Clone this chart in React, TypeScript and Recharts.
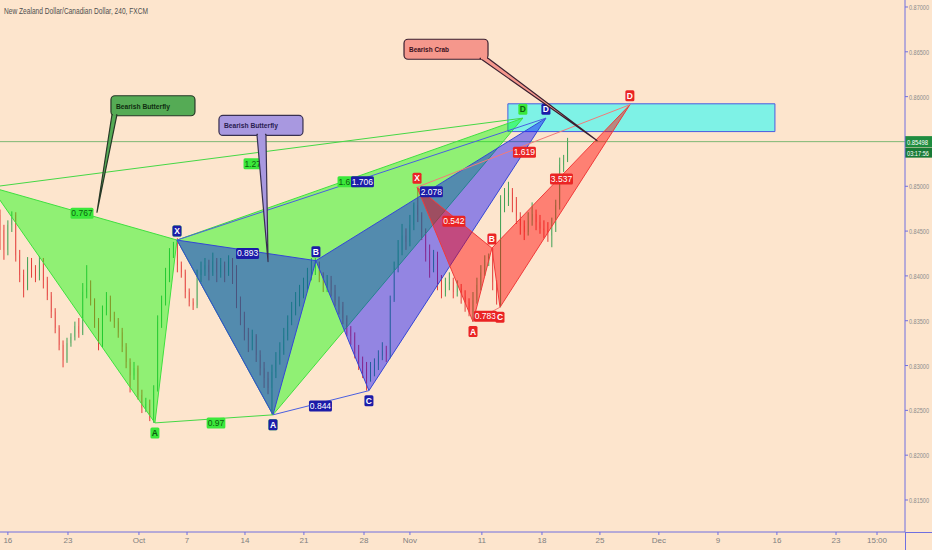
import React from 'react';
import { ComposedChart, Bar, Scatter, XAxis, YAxis, ReferenceArea, ReferenceLine } from 'recharts';

// ---------------- DATA ----------------
const chartTitle = 'New Zealand Dollar/Canadian Dollar, 240, FXCM';

// candles every 2 bars (240-minute bars)
const candleBarStep = 2;
const firstOpen = 0.8468;
const candleHighs = [
  0.8474, 0.8457, 0.8462, 0.8472, 0.8471, 0.8429, 0.8407, 0.8421, 0.8420, 0.8412,
  0.8422, 0.8420, 0.8399, 0.8382, 0.8364, 0.8345, 0.8328, 0.8331, 0.8336, 0.8349,
  0.8353, 0.8392, 0.8412, 0.8395, 0.8375, 0.8353, 0.8367, 0.8382, 0.8378, 0.8360,
  0.8353, 0.8342, 0.8325, 0.8308, 0.8304, 0.8300, 0.8273, 0.8264, 0.8262, 0.8278,
  0.8356, 0.8378, 0.8409, 0.8431, 0.8438, 0.8442, 0.8416, 0.8407, 0.8386, 0.8375,
  0.8407, 0.8416, 0.8420, 0.8418, 0.8426, 0.8420, 0.8420, 0.8416, 0.8423, 0.8420,
  0.8412, 0.8377, 0.8360, 0.8342, 0.8340, 0.8335, 0.8317, 0.8304, 0.8293, 0.8301,
  0.8315, 0.8326, 0.8342, 0.8356, 0.8371, 0.8382, 0.8390, 0.8398, 0.8409, 0.8420,
  0.8420, 0.8416, 0.8404, 0.8401, 0.8400, 0.8390, 0.8377, 0.8371, 0.8356, 0.8344,
  0.8337, 0.8323, 0.8310, 0.8304, 0.8304, 0.8308, 0.8317, 0.8326, 0.8322, 0.8378,
  0.8416, 0.8440, 0.8458, 0.8453, 0.8468, 0.8482, 0.8499, 0.8471, 0.8453, 0.8435,
  0.8429, 0.8427, 0.8401, 0.8398, 0.8404, 0.8398, 0.8395, 0.8391, 0.8384, 0.8375,
  0.8382, 0.8398, 0.8412, 0.8423, 0.8425, 0.8431, 0.8395, 0.8490, 0.8498, 0.8505,
  0.8498, 0.8488, 0.8471, 0.8462, 0.8471, 0.8482, 0.8474, 0.8468, 0.8462, 0.8460,
  0.8465, 0.8485, 0.8532, 0.8535, 0.8554,
];
const candleLows = [
  0.8429, 0.8418, 0.8423, 0.8449, 0.8416, 0.8393, 0.8376, 0.8384, 0.8398, 0.8393,
  0.8395, 0.8386, 0.8373, 0.8353, 0.8336, 0.8317, 0.8298, 0.8303, 0.8321, 0.8328,
  0.8331, 0.8334, 0.8375, 0.8367, 0.8342, 0.8317, 0.8320, 0.8356, 0.8349, 0.8342,
  0.8331, 0.8315, 0.8297, 0.8270, 0.8284, 0.8262, 0.8247, 0.8248, 0.8238, 0.8236,
  0.8271, 0.8342, 0.8367, 0.8393, 0.8420, 0.8404, 0.8398, 0.8375, 0.8366, 0.8362,
  0.8364, 0.8393, 0.8400, 0.8395, 0.8400, 0.8393, 0.8398, 0.8393, 0.8400, 0.8391,
  0.8364, 0.8345, 0.8328, 0.8315, 0.8317, 0.8304, 0.8289, 0.8275, 0.8268, 0.8245,
  0.8286, 0.8301, 0.8312, 0.8328, 0.8345, 0.8356, 0.8366, 0.8375, 0.8384, 0.8395,
  0.8401, 0.8393, 0.8382, 0.8382, 0.8377, 0.8366, 0.8357, 0.8346, 0.8333, 0.8323,
  0.8308, 0.8295, 0.8286, 0.8272, 0.8282, 0.8288, 0.8295, 0.8306, 0.8304, 0.8308,
  0.8371, 0.8404, 0.8423, 0.8429, 0.8433, 0.8451, 0.8460, 0.8440, 0.8416, 0.8398,
  0.8404, 0.8384, 0.8375, 0.8377, 0.8384, 0.8375, 0.8377, 0.8369, 0.8360, 0.8355,
  0.8349, 0.8369, 0.8384, 0.8400, 0.8411, 0.8384, 0.8368, 0.8365, 0.8471, 0.8478,
  0.8471, 0.8458, 0.8446, 0.8440, 0.8445, 0.8456, 0.8451, 0.8447, 0.8442, 0.8438,
  0.8432, 0.8449, 0.8474, 0.8516, 0.8527,
];
const candleCloses = [
  0.8451, 0.8429, 0.8457, 0.8468, 0.8423, 0.8401, 0.8386, 0.8416, 0.8407, 0.8400,
  0.8416, 0.8395, 0.8378, 0.8360, 0.8342, 0.8323, 0.8306, 0.8325, 0.8332, 0.8344,
  0.8336, 0.8382, 0.8386, 0.8373, 0.8349, 0.8323, 0.8362, 0.8375, 0.8353, 0.8349,
  0.8337, 0.8321, 0.8304, 0.8289, 0.8297, 0.8267, 0.8253, 0.8257, 0.8241, 0.8273,
  0.8349, 0.8373, 0.8398, 0.8427, 0.8435, 0.8412, 0.8404, 0.8382, 0.8371, 0.8367,
  0.8401, 0.8407, 0.8412, 0.8404, 0.8416, 0.8404, 0.8412, 0.8404, 0.8416, 0.8409,
  0.8373, 0.8356, 0.8337, 0.8328, 0.8333, 0.8312, 0.8297, 0.8286, 0.8275, 0.8293,
  0.8306, 0.8317, 0.8333, 0.8349, 0.8362, 0.8371, 0.8378, 0.8388, 0.8400, 0.8409,
  0.8416, 0.8400, 0.8390, 0.8395, 0.8384, 0.8373, 0.8366, 0.8353, 0.8340, 0.8333,
  0.8317, 0.8304, 0.8297, 0.8286, 0.8295, 0.8301, 0.8311, 0.8317, 0.8311, 0.8373,
  0.8409, 0.8429, 0.8445, 0.8438, 0.8457, 0.8479, 0.8468, 0.8449, 0.8427, 0.8409,
  0.8423, 0.8395, 0.8382, 0.8391, 0.8393, 0.8382, 0.8386, 0.8377, 0.8371, 0.8360,
  0.8373, 0.8390, 0.8404, 0.8418, 0.8422, 0.8393, 0.8373, 0.8485, 0.8488, 0.8493,
  0.8485, 0.8467, 0.8456, 0.8449, 0.8462, 0.8469, 0.8460, 0.8453, 0.8451, 0.8445,
  0.8456, 0.8479, 0.8524, 0.8529, 0.85498,
];

const xTickBars = [4, 34.5, 70.5, 94.9, 124.3, 154.2, 184.7, 208, 244.5, 275, 304.4, 334.3, 364.3, 394.2, 424.2, 445];
const xTickLabels = ['16', '23', 'Oct', '7', '14', '21', '28', 'Nov', '11', '18', '25', 'Dec', '9', '16', '23', '15:00'];
const priceTicks = [0.815, 0.82, 0.825, 0.83, 0.835, 0.84, 0.845, 0.85, 0.86, 0.865, 0.87];
const lastPrice = 0.85498;
const countdown = '03:17:56';

const pointNames = ['X', 'A', 'B', 'C', 'D'];
const greenBars = [-4.6, 78.6, 89.8, 138.5, 265.3];
const greenPrices = [0.8499, 0.8236, 0.844, 0.8245, 0.8576];
const blueBars = [89.8, 138.5, 160.3, 187.2, 277.0];
const bluePrices = [0.844, 0.8245, 0.8417, 0.8272, 0.8576];
const redBars = [211.6, 240.0, 249.6, 253.7, 319.6];
const redPrices = [0.8499, 0.8349, 0.8431, 0.8365, 0.8591];

const greenRatioTexts = ['0.767', '0.97', '1.275', '1.618'];
const greenRatioBars = [41.6, 109.6, 129.4, 177.1];
const greenRatioPrices = [0.847, 0.8236, 0.8525, 0.8505];
const blueRatioTexts = ['0.893', '0.844', '2.078', '1.706'];
const blueRatioBars = [125.6, 162.6, 218.9, 183.9];
const blueRatioPrices = [0.8425, 0.8255, 0.8494, 0.8505];
const redRatioTexts = ['0.542', '0.783', '3.537', '1.619'];
const redRatioBars = [230.3, 246.3, 284.9, 266.1];
const redRatioPrices = [0.8461, 0.8355, 0.8508, 0.8538];

const zoneBars = [257.7, 393.2];
const zonePrices = [0.8561, 0.8592];

const calloutTexts = ['Bearish Butterfly', 'Bearish Butterfly', 'Bearish Crab'];
const calloutTipBars = [49.2, 136.0, 302.9];
const calloutTipPrices = [0.8471, 0.8416, 0.8551];
const calloutBoxBars = [56.3, 111.1, 205.0];
const calloutBoxPrices = [0.8601, 0.8579, 0.8664];

// ---------------- STYLE ----------------
const FONT = '"Liberation Sans", Arial, sans-serif';
const BG = '#fde5cd';
const AXIS = '#6f6fe0';
const X_DOMAIN: [number, number] = [0, 459.2];
const Y_DOMAIN: [number, number] = [0.81143, 0.87078];

const THEMES: Record<string, any> = {
  green: { fill: '#00ff00', op: 0.43, stroke: '#3fe03f', line: '#45d845', tagBg: '#3be83b', tagFg: '#0d5e0d' },
  blue: { fill: '#0000ff', op: 0.42, stroke: '#3446d6', line: '#4a5fe0', tagBg: '#1c1ca8', tagFg: '#ffffff' },
  red: { fill: '#ff0000', op: 0.44, stroke: '#f03a3a', line: '#f27a7a', tagBg: '#ea2424', tagFg: '#ffffff' },
};
const CALLOUT_STYLES = [
  { fill: '#55ab55', stroke: '#273827', color: '#102e10', base: [1, 6], textLen: 54 },
  { fill: '#a898e0', stroke: '#383050', color: '#2a2050', base: [38, 47], textLen: 54 },
  { fill: '#f5978c', stroke: '#3a2030', color: '#3a1020', base: [76, 84], textLen: 40 },
];

// ---------------- BUILD ----------------
const candles = candleCloses.map((close, i) => {
  const open = i === 0 ? firstOpen : candleCloses[i - 1];
  const high = Math.max(candleHighs[i], open, close);
  const low = Math.min(candleLows[i], open, close);
  return { x: i * candleBarStep, open, high, low, close, range: [low, high] };
});

const toPts = (bars: number[], prices: number[], texts?: string[]) =>
  bars.map((x, i) => ({ x, y: prices[i], text: texts ? texts[i] : '' }));

const inDomain = (p: { x: number }) => p.x >= X_DOMAIN[0] && p.x <= X_DOMAIN[1];

const CandleShape = (props: any) => {
  const { x, y, width, height, payload } = props;
  if (payload == null || x == null || y == null) return <g />;
  const top = Math.min(y, y + height);
  const h = Math.abs(height);
  const span = payload.high - payload.low;
  const k = span > 0 ? h / span : 0;
  const yO = top + (payload.high - payload.open) * k;
  const yC = top + (payload.high - payload.close) * k;
  const up = payload.close >= payload.open;
  const color = up ? '#2a9a48' : '#e02c2b';
  const cx = x + width / 2;
  return (
    <g>
      <line x1={cx} x2={cx} y1={top} y2={top + h} stroke={color} strokeWidth={1} strokeOpacity={0.9} />
      <rect x={x} y={Math.min(yO, yC)} width={width} height={Math.max(1, Math.abs(yC - yO))} fill={color} />
    </g>
  );
};

const emptyShape = () => <g />;

const polygonRenderer = (fill: string, op: number, stroke: string) => (props: any) => {
  const pts = (props.points || []).filter((p: any) => p && p.x != null && p.y != null);
  if (pts.length < 3) return <g />;
  return (
    <polygon
      points={pts.map((p: any) => `${p.x},${p.y}`).join(' ')}
      fill={fill}
      fillOpacity={op}
      stroke={stroke}
      strokeWidth={1}
    />
  );
};

const tagOffset = (t: string) => (t === 'X' || t === 'B' || t === 'D' ? -9 : t === 'A' || t === 'C' ? 10 : 0);

const tagShape = (bg: string, fg: string) => (props: any) => {
  const { cx, cy, payload } = props;
  if (cx == null || cy == null || !payload) return <g />;
  const t = String(payload.text);
  const single = t.length === 1;
  const w = single ? 9 : t.length * 4.3 + 1.5;
  const h = 11;
  const yc = cy + tagOffset(t);
  return (
    <g>
      <rect x={cx - w / 2} y={yc - h / 2} width={w} height={h} rx={1.5} fill={bg} />
      <text
        x={cx}
        y={yc + 3}
        textAnchor="middle"
        fontSize={8.5}
        fontWeight={single ? 700 : 400}
        fontFamily={FONT}
        fill={fg}
      >
        {t}
      </text>
    </g>
  );
};

const calloutRenderer = (i: number) => (props: any) => {
  const pts = props.points || [];
  if (pts.length < 2) return <g />;
  const s = CALLOUT_STYLES[i];
  const tip = pts[0];
  const box = pts[1];
  const W = 84;
  const H = 20;
  const b0 = box.x + s.base[0];
  const b1 = box.x + s.base[1];
  return (
    <g>
      <rect x={box.x} y={box.y} width={W} height={H} rx={4} fill={s.fill} stroke={s.stroke} strokeWidth={1.2} />
      <polygon
        points={`${b0},${box.y + H - 1} ${b1},${box.y + H - 1} ${tip.x},${tip.y}`}
        fill={s.fill}
        stroke={s.stroke}
        strokeWidth={1.2}
        strokeLinejoin="round"
      />
      <rect x={b0 + 1} y={box.y + H - 4} width={Math.max(0, b1 - b0 - 2)} height={4} fill={s.fill} />
      <text
        x={box.x + 5}
        y={box.y + 13}
        fontSize={8}
        fontWeight={700}
        fontFamily={FONT}
        fill={s.color}
        textLength={s.textLen}
        lengthAdjust="spacingAndGlyphs"
      >
        {calloutTexts[i]}
      </text>
    </g>
  );
};

const PriceTag = (props: any) => {
  const vb = props.viewBox;
  if (!vb) return null;
  const x = vb.x + (vb.width || 0);
  const y = vb.y;
  return (
    <g>
      <rect x={x} y={y - 5.5} width={27} height={11} fill="#1f8c3f" />
      <text x={x + 2} y={y + 3} fontSize={8} fontFamily={FONT} fill="#ffffff" textLength={21} lengthAdjust="spacingAndGlyphs">
        {lastPrice.toFixed(5)}
      </text>
      <rect x={x} y={y + 6} width={27} height={10} fill="#187a35" />
      <text x={x + 2} y={y + 14} fontSize={8} fontFamily={FONT} fill="#ffffff" textLength={22} lengthAdjust="spacingAndGlyphs">
        {countdown}
      </text>
    </g>
  );
};

const XTick = (props: any) => {
  const { x, y, payload } = props;
  const i = xTickBars.indexOf(payload.value);
  return (
    <text x={x} y={y + 6} textAnchor="middle" fontSize={8} fontFamily={FONT} fill="#808080">
      {i >= 0 ? xTickLabels[i] : ''}
    </text>
  );
};

const YTick = (props: any) => {
  const { x, y, payload } = props;
  return (
    <text x={x} y={y + 3} fontSize={8} fontFamily={FONT} fill="#8c8c8c" textLength={20} lengthAdjust="spacingAndGlyphs">
      {Number(payload.value).toFixed(5)}
    </text>
  );
};

const patterns = [
  { key: 'green', bars: greenBars, prices: greenPrices, rt: greenRatioTexts, rb: greenRatioBars, rp: greenRatioPrices },
  { key: 'blue', bars: blueBars, prices: bluePrices, rt: blueRatioTexts, rb: blueRatioBars, rp: blueRatioPrices },
  { key: 'red', bars: redBars, prices: redPrices, rt: redRatioTexts, rb: redRatioBars, rp: redRatioPrices },
];

export default function App() {
  const polys: React.ReactNode[] = [];
  const lines: React.ReactNode[] = [];
  const tags: React.ReactNode[] = [];
  patterns.forEach((p) => {
    const th = THEMES[p.key];
    const all = toPts(p.bars, p.prices, pointNames);
    polys.push(
      <Scatter key={p.key + '-xab'} data={[all[0], all[1], all[2]]} dataKey="y" isAnimationActive={false}
        shape={emptyShape} line={polygonRenderer(th.fill, th.op, th.stroke)} />,
      <Scatter key={p.key + '-bcd'} data={[all[2], all[3], all[4]]} dataKey="y" isAnimationActive={false}
        shape={emptyShape} line={polygonRenderer(th.fill, th.op, th.stroke)} />
    );
    lines.push(
      <Scatter key={p.key + '-xd'} data={[all[0], all[4]]} dataKey="y" isAnimationActive={false}
        shape={emptyShape} line={{ stroke: th.line, strokeWidth: 1 }} />,
      <Scatter key={p.key + '-ac'} data={[all[1], all[3]]} dataKey="y" isAnimationActive={false}
        shape={emptyShape} line={{ stroke: th.line, strokeWidth: 1 }} />
    );
    tags.push(
      <Scatter key={p.key + '-rt'} data={toPts(p.rb, p.rp, p.rt)} dataKey="y" isAnimationActive={false}
        shape={tagShape(th.tagBg, th.tagFg)} />,
      <Scatter key={p.key + '-pt'} data={all.filter(inDomain)} dataKey="y" isAnimationActive={false}
        shape={tagShape(th.tagBg, th.tagFg)} />
    );
  });

  const callouts = calloutTexts.map((_, i) => (
    <Scatter
      key={'callout' + i}
      data={[
        { x: calloutTipBars[i], y: calloutTipPrices[i] },
        { x: calloutBoxBars[i], y: calloutBoxPrices[i] },
      ]}
      dataKey="y"
      isAnimationActive={false}
      shape={emptyShape}
      line={calloutRenderer(i)}
    />
  ));

  return (
    <div style={{ position: 'absolute', left: 0, top: 0, width: 932, height: 550, background: BG, overflow: 'hidden' }}>
      <ComposedChart width={932} height={550} data={candles} margin={{ top: 0, right: 0, bottom: 0, left: 0 }}>
        <XAxis
          dataKey="x"
          type="number"
          domain={X_DOMAIN}
          allowDataOverflow
          ticks={xTickBars}
          interval={0}
          height={18}
          stroke={AXIS}
          tickSize={3}
          tickMargin={2}
          tick={<XTick />}
        />
        <YAxis
          orientation="right"
          type="number"
          domain={Y_DOMAIN}
          allowDataOverflow
          ticks={priceTicks}
          interval={0}
          width={27}
          stroke={AXIS}
          tickSize={3}
          tickMargin={1}
          tick={<YTick />}
        />
        <ReferenceArea
          x1={zoneBars[0]}
          x2={zoneBars[1]}
          y1={zonePrices[0]}
          y2={zonePrices[1]}
          fill="#00ffff"
          fillOpacity={0.5}
          stroke="#4b5be0"
          strokeWidth={1}
          ifOverflow="visible"
        />
        <Bar dataKey="range" barSize={2} isAnimationActive={false} shape={<CandleShape />} />
        {polys}
        {lines}
        <ReferenceLine y={lastPrice} stroke="#5fae5f" strokeOpacity={0.8} strokeWidth={1} label={<PriceTag />} />
        {tags}
        {callouts}
      </ComposedChart>
      <svg style={{ position: 'absolute', left: 0, top: 0, pointerEvents: 'none' }} width={932} height={550}>
        <text x={4} y={14} fontSize={9} fontFamily={FONT} fill="#505050" textLength={144} lengthAdjust="spacingAndGlyphs">
          {chartTitle}
        </text>
        <line x1={905} x2={932} y1={532.5} y2={532.5} stroke={AXIS} strokeWidth={1} />
        <line x1={905.5} x2={905.5} y1={532} y2={550} stroke={AXIS} strokeWidth={1} />
      </svg>
    </div>
  );
}
